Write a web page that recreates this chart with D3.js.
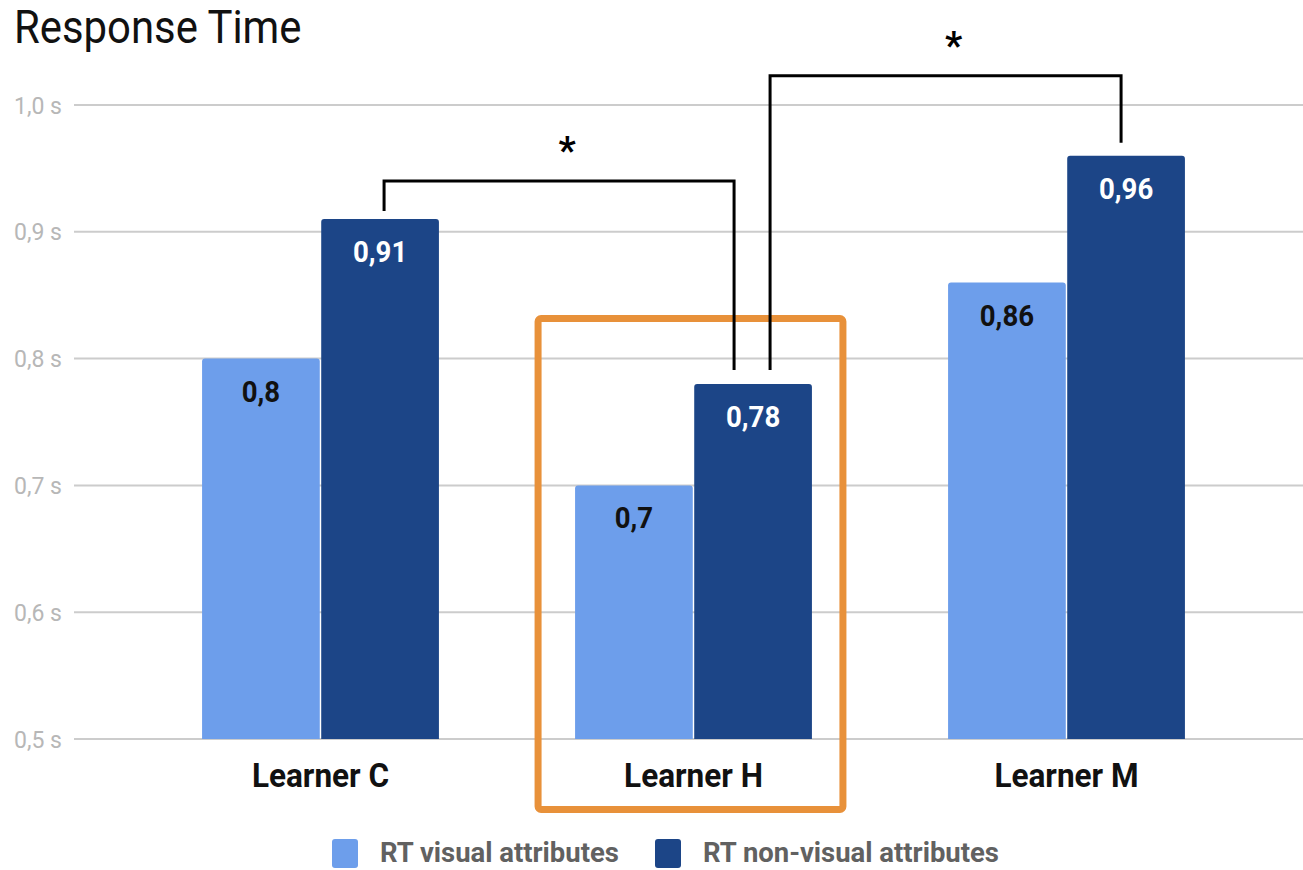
<!DOCTYPE html>
<html>
<head>
<meta charset="utf-8">
<script src="https://cdn.jsdelivr.net/npm/d3@7"></script>
<style>
  html, body { margin: 0; padding: 0; background: #fff; }
  svg { display: block; }
  text { font-family: Roboto, "Noto Sans", sans-serif; }
</style>
</head>
<body>
<svg id="chart" width="1303" height="870"></svg>
<script>
// Learners on the x axis
const learners = ["Learner C", "Learner H", "Learner M"];
// Series names (legend) and colours
const seriesNames = ["RT visual attributes", "RT non-visual attributes"];
const seriesColors = ["#6d9eeb", "#1c4587"];
// Mean response time in seconds
const rtVisual = [0.80, 0.70, 0.86];
const rtNonVisual = [0.91, 0.78, 0.96];
// Value axis ticks
const yTicks = [0.5, 0.6, 0.7, 0.8, 0.9, 1.0];
// Significance brackets: from one bar to another, with the height of the crossbar (in seconds)
const brackets = [
  { from: ["Learner C", 1], to: ["Learner H", 1], level: 0.94, label: "*" },
  { from: ["Learner H", 1], to: ["Learner M", 1], level: 1.023, label: "*" }
];
// Category highlighted with a frame
const highlighted = "Learner H";

const svg = d3.select("#chart");
const fmt = v => String(v).replace(".", ",");

// Narrow the glyphs of a text selection horizontally by factor k
function condense(sel, k) {
  sel.each(function () {
    const len = this.getComputedTextLength();
    d3.select(this).attr("textLength", len * k).attr("lengthAdjust", "spacingAndGlyphs");
  });
}

const y = d3.scaleLinear().domain([0.5, 1.0]).range([739, 105]);
const x = d3.scaleBand().domain(learners).range([134, 1253])
  .paddingInner(0.365).paddingOuter(0.1825);
const xs = d3.scaleBand().domain([0, 1]).range([0, x.bandwidth()]).paddingInner(0.012);

// Title
svg.append("text").attr("x", 14).attr("y", 43)
  .attr("font-size", 46).attr("fill", "#111").text("Response Time")
  .call(condense, 0.91);

// Gridlines and tick labels
const grid = svg.append("g");
grid.selectAll("line").data(yTicks).join("line")
  .attr("x1", 74).attr("x2", 1303)
  .attr("y1", d => y(d)).attr("y2", d => y(d))
  .attr("stroke", "#cccccc").attr("stroke-width", 2);
grid.selectAll("text").data(yTicks).join("text")
  .attr("x", 62).attr("y", d => y(d) + 8.5)
  .attr("text-anchor", "end").attr("font-size", 23).attr("fill", "#b7b7b7")
  .text(d => d.toFixed(1).replace(".", ",") + " s");

// Bars
const rows = learners.map((l, i) => ({ learner: l, values: [rtVisual[i], rtNonVisual[i]] }));
const groups = svg.append("g").selectAll("g").data(rows).join("g")
  .attr("transform", d => `translate(${x(d.learner)},0)`);

function topRounded(x0, y0, w, h, r) {
  return `M${x0},${y0 + h}V${y0 + r}Q${x0},${y0} ${x0 + r},${y0}H${x0 + w - r}Q${x0 + w},${y0} ${x0 + w},${y0 + r}V${y0 + h}Z`;
}

const bars = groups.selectAll("g").data(d => d.values.map((v, s) => ({ v, s }))).join("g");
bars.append("path")
  .attr("d", d => topRounded(xs(d.s), y(d.v), xs.bandwidth(), y(0.5) - y(d.v), 3))
  .attr("fill", d => seriesColors[d.s]);
bars.append("text")
  .attr("x", d => xs(d.s) + xs.bandwidth() / 2)
  .attr("y", d => y(d.v) + 43)
  .attr("text-anchor", "middle").attr("font-size", 30).attr("font-weight", 700)
  .attr("fill", d => d.s === 0 ? "#111" : "#fff")
  .text(d => fmt(d.v))
  .call(condense, 0.92);

// Category labels
svg.append("g").selectAll("text").data(learners).join("text")
  .attr("x", d => x(d) + x.bandwidth() / 2).attr("y", 787)
  .attr("text-anchor", "middle").attr("font-size", 33).attr("font-weight", 700)
  .attr("fill", "#111").text(d => d)
  .call(condense, 0.955);

// Highlight frame
svg.append("rect")
  .attr("x", x(highlighted) - 37).attr("y", 318.5)
  .attr("width", x.bandwidth() + 68).attr("height", 491)
  .attr("rx", 3).attr("fill", "none")
  .attr("stroke", "#e8913a").attr("stroke-width", 7);

// Significance brackets
const barCenter = ([l, s]) => x(l) + xs(s) + xs.bandwidth() / 2;
const barTop = ([l, s]) => y((s === 0 ? rtVisual : rtNonVisual)[learners.indexOf(l)]);
const legOffset = [[4, -19], [17, -5]];
brackets.forEach((b, i) => {
  const x1 = barCenter(b.from) + legOffset[i][0];
  const x2 = barCenter(b.to) + legOffset[i][1];
  const yb = y(b.level);
  const y1 = i === 0 ? barTop(b.from) - 8 : barTop(b.from) - 14;
  const y2 = i === 0 ? barTop(b.to) - 14 : barTop(b.to) - 13;
  svg.append("path")
    .attr("d", `M${x1},${y1}V${yb}H${x2}V${y2}`)
    .attr("fill", "none").attr("stroke", "#000").attr("stroke-width", 3);
  svg.append("text")
    .attr("x", (x1 + x2) / 2 + 8).attr("y", yb - 17)
    .attr("text-anchor", "middle").attr("font-size", 38).attr("font-weight", 700)
    .attr("fill", "#000").text(b.label);
});

// Legend
const legend = svg.append("g");
const legendX = [332, 655];
seriesNames.forEach((n, i) => {
  legend.append("rect").attr("x", legendX[i]).attr("y", 839)
    .attr("width", 26).attr("height", 29).attr("rx", 3)
    .attr("fill", seriesColors[i]);
  legend.append("text").attr("x", legendX[i] + 48).attr("y", 862)
    .attr("font-size", 28).attr("font-weight", 700).attr("fill", "#616161")
    .text(n)
    .call(condense, 0.98);
});
</script>
</body>
</html>
